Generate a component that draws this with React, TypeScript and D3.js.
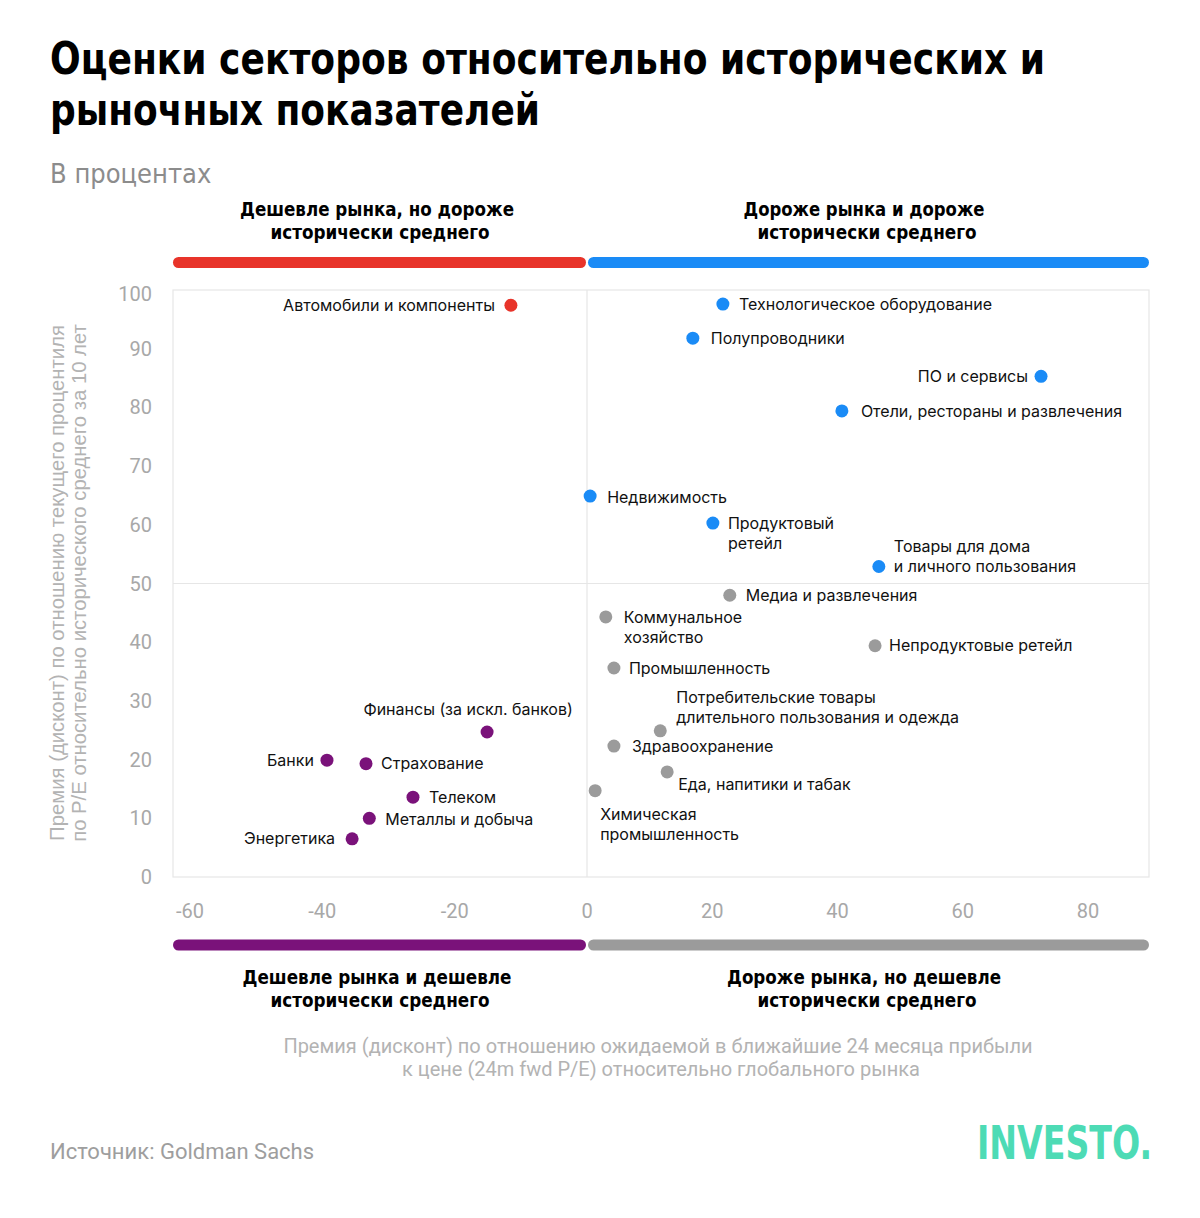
import React from "react";
import * as d3 from "d3";

// premium/discount of 24m fwd P/E vs global market (x), percentile vs 10y history (y)
const sectorNames = [
  "Автомобили и компоненты",
  "Технологическое оборудование",
  "Полупроводники",
  "ПО и сервисы",
  "Отели, рестораны и развлечения",
  "Недвижимость",
  "Продуктовый\nретейл",
  "Товары для дома\nи личного пользования",
  "Медиа и развлечения",
  "Коммунальное\nхозяйство",
  "Непродуктовые ретейл",
  "Промышленность",
  "Потребительские товары\nдлительного пользования и одежда",
  "Здравоохранение",
  "Еда, напитики и табак",
  "Химическая\nпромышленность",
  "Финансы (за искл. банков)",
  "Банки",
  "Страхование",
  "Телеком",
  "Металлы и добыча",
  "Энергетика",
];
const fwdPremium = [
  -11.5, 21.7, 16.9, 72.5, 40.7, 0.5, 20.1, 46.6, 22.8, 3.0, 46.0, 4.3, 11.7,
  4.3, 12.8, 1.3, -15.1, -39.3, -33.4, -26.3, -32.9, -35.5,
];
const histPercentile = [
  97.4, 97.6, 91.8, 85.3, 79.4, 64.9, 60.3, 52.9, 48.0, 44.3, 39.4, 35.6,
  24.9, 22.3, 17.9, 14.7, 24.7, 19.9, 19.3, 13.6, 10.0, 6.5,
];
const quadrant = [
  "cheapMktRichHist",
  "rich", "rich", "rich", "rich", "rich", "rich", "rich",
  "richMktCheapHist", "richMktCheapHist", "richMktCheapHist", "richMktCheapHist",
  "richMktCheapHist", "richMktCheapHist", "richMktCheapHist", "richMktCheapHist",
  "cheap", "cheap", "cheap", "cheap", "cheap", "cheap",
];

const xTicks = [-60, -40, -20, 0, 20, 40, 60, 80];
const yTicks = [0, 10, 20, 30, 40, 50, 60, 70, 80, 90, 100];

const colors = {
  cheapMktRichHist: "#E8342A",
  rich: "#1A8BF6",
  richMktCheapHist: "#9B9B9B",
  cheap: "#7A127A",
};

// label placement relative to each dot: [dx, dy of first line, anchor]
const labelPlace: [number, number, string][] = [
  [-16, 0, "end"],
  [16, 0, "start"],
  [18, 0, "start"],
  [-13, 0, "end"],
  [19, 0, "start"],
  [17, 1, "start"],
  [15, 0, "start"],
  [15, -20, "start"],
  [16, 0, "start"],
  [18, 0, "start"],
  [14, 0, "start"],
  [15, 0, "start"],
  [16, -33, "start"],
  [18, 0, "start"],
  [11, 12, "start"],
  [5, 24, "start"],
  [-19, -23, "middle"],
  [-13, 0, "end"],
  [15, 0, "start"],
  [16, 0, "start"],
  [16, 1, "start"],
  [-17, 0, "end"],
];

// quadrant headers: [text, centre x, baseline y, width]
const headers: [string, number, number, number][] = [
  ["Дешевле рынка, но дороже", 377, 216, 274],
  ["исторически среднего", 380, 239, 219],
  ["Дороже рынка и дороже", 864, 216, 241],
  ["исторически среднего", 867, 239, 219],
  ["Дешевле рынка и дешевле", 377, 984, 269],
  ["исторически среднего", 380, 1007, 219],
  ["Дороже рынка, но дешевле", 864, 984, 274],
  ["исторически среднего", 867, 1007, 219],
];

const W = 1200;
const H = 1218;
const plotLeft = 173;
const plotRight = 1149;
const plotTop = 290;
const plotBottom = 877;

const condensed = "'Liberation Sans Narrow', 'Arial Narrow', 'DejaVu Sans Condensed', sans-serif";
const labelFont = "Inter, 'Noto Sans', sans-serif";
const tickFont = "Roboto, 'Noto Sans', sans-serif";

export default function App() {
  const x = d3.scaleLinear().domain([-60, 0, 80]).range([190, 587, 1088]);
  const y = d3.scaleLinear().domain([0, 100]).range([plotBottom, plotTop]);
  const x0 = x(0);
  const y50 = y(50);
  const gridColor = "#E6E6E6";

  const bar = (x1: number, x2: number, cy: number, fill: string) => (
    <rect x={x1} y={cy - 5.5} width={x2 - x1} height={11} rx={5.5} fill={fill} />
  );

  return (
    <div style={{ position: "absolute", left: 0, top: 0 }}>
      <svg width={W} height={H} style={{ display: "block", background: "#fff" }}>
        {/* title */}
        <text x={50} y={74} fontFamily={condensed} fontWeight={700} fontSize={45} fill="#000"
          textLength={995} lengthAdjust="spacingAndGlyphs">
          Оценки секторов относительно исторических и
        </text>
        <text x={50} y={125} fontFamily={condensed} fontWeight={700} fontSize={45} fill="#000"
          textLength={490} lengthAdjust="spacingAndGlyphs">
          рыночных показателей
        </text>
        <text x={50} y={183} fontFamily={condensed} fontSize={27} fill="#8C8C8C">
          В процентах
        </text>

        {/* quadrant headers */}
        <g fontFamily={condensed} fontWeight={700} fontSize={20} fill="#000" textAnchor="middle">
          {headers.map(([t, hx, hy, w], i) => (
            <text key={i} x={hx} y={hy} textLength={w} lengthAdjust="spacingAndGlyphs">
              {t}
            </text>
          ))}
        </g>
        {bar(plotLeft, x0 - 1, 262.5, colors.cheapMktRichHist)}
        {bar(x0 + 1, plotRight, 262.5, colors.rich)}
        {bar(plotLeft, x0 - 1, 945, colors.cheap)}
        {bar(x0 + 1, plotRight, 945, colors.richMktCheapHist)}

        {/* plot frame and dividers */}
        <rect x={plotLeft} y={plotTop} width={plotRight - plotLeft} height={plotBottom - plotTop}
          fill="none" stroke={gridColor} strokeWidth={1.2} />
        <line x1={x0} x2={x0} y1={plotTop} y2={plotBottom} stroke={gridColor} strokeWidth={1.2} />
        <line x1={plotLeft} x2={plotRight} y1={y50} y2={y50} stroke={gridColor} strokeWidth={1.2} />

        {/* ticks */}
        <g fontFamily={tickFont} fontSize={20} fill="#A8A8A8">
          {yTicks.map((t) => (
            <text key={"y" + t} x={152} y={Math.max(y(t), plotTop + 4)} dy="0.35em" textAnchor="end">
              {t}
            </text>
          ))}
          {xTicks.map((t) => (
            <text key={"x" + t} x={x(t)} y={911} dy="0.35em" textAnchor="middle">
              {String(t)}
            </text>
          ))}
        </g>

        {/* axis titles */}
        <g fontFamily="'Liberation Sans', Arial, sans-serif" fontSize={20.3} fill="#B3B3B3" textAnchor="middle">
          <text transform={`translate(64,583) rotate(-90)`}>
            Премия (дисконт) по отношению текущего процентиля
          </text>
          <text transform={`translate(86,583) rotate(-90)`}>
            по P/E относительно исторического среднего за 10 лет
          </text>
        </g>
        <g fontFamily={tickFont} fontSize={20} fill="#B3B3B3" textAnchor="middle">
          <text x={658} y={1053}>
            Премия (дисконт) по отношению ожидаемой в ближайшие 24 месяца прибыли
          </text>
          <text x={661} y={1076}>к цене (24m fwd P/E) относительно глобального рынка</text>
        </g>

        {/* points */}
        {sectorNames.map((name, i) => {
          const cx = x(fwdPremium[i]);
          const cy = y(histPercentile[i]);
          const [dx, dy, anchor] = labelPlace[i];
          return (
            <g key={name}>
              <circle cx={cx} cy={cy} r={6.5} fill={colors[quadrant[i]]} />
              <text x={cx + dx} y={cy + dy} textAnchor={anchor}
                fontFamily={labelFont} fontSize={16} fill="#111">
                {name.split("\n").map((ln, k) => (
                  <tspan key={k} x={cx + dx} dy={k === 0 ? "0.35em" : 20}>
                    {ln}
                  </tspan>
                ))}
              </text>
            </g>
          );
        })}

        {/* footer */}
        <text x={50} y={1159} fontFamily={tickFont} fontSize={22} fill="#9E9E9E">
          Источник: Goldman Sachs
        </text>
        <text x={977} y={1159} fontFamily={condensed} fontWeight={700} fontSize={46} fill="#4DDBB5"
          textLength={175} lengthAdjust="spacingAndGlyphs">
          INVESTO.
        </text>
      </svg>
    </div>
  );
}
